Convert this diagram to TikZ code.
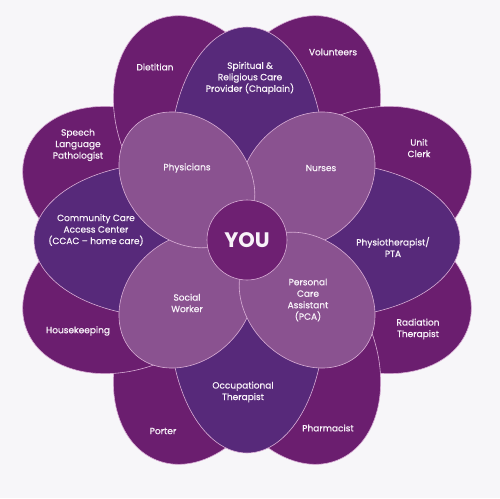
\documentclass[tikz,border=0pt]{standalone}
\usepackage{fontspec}
\setmainfont{Poppins}
\newfontfamily\petalFont{Poppins}[FakeBold=0.7]

\begin{document}
\begin{tikzpicture}[x=1pt, y=1pt,
    petal/.style={draw=lineColour, line width=0.6pt},
    label/.style={text=textColour, align=center, font=\petalFont\fontsize{9}{11.5}\selectfont}]
    \def\outerDist{126}
    \def\middleDist{80}
    \def\innerDist{85}
    \definecolor{lineColour}{HTML}{D9AED6}
    \definecolor{textColour}{HTML}{F8F2F9}
    \definecolor{outerColour}{HTML}{6B1E6F}
    \definecolor{middleColour}{HTML}{57297A}
    \definecolor{innerColour}{HTML}{8A5290}
    \definecolor{youColour}{HTML}{6E2072}
    \definecolor{pageColour}{HTML}{F7F6F9}

    % Page
    \fill[pageColour] (-247,-258) rectangle (253,240);
    \useasboundingbox (-247,-258) rectangle (253,240);

    % Outer petals (the ones lying underneath first)
    \foreach \ang in {157.5,67.5,-22.5,-112.5,112.5,22.5,-67.5,-157.5}
        \filldraw[petal, fill=outerColour, rotate=\ang] (\outerDist,0) ellipse (112 and 80);

    % Middle petals
    \foreach \ang in {90,0,-90,180}
        \filldraw[petal, fill=middleColour, rotate=\ang] (\middleDist,0) ellipse (133 and 77);

    % Inner petals: Nurses, Social Worker, Physicians, PCA
    \foreach \ang in {45,225,135,-45}
        \filldraw[petal, fill=innerColour, rotate=\ang] (\innerDist,0) ellipse (75 and 60);

    % Centre
    \filldraw[petal, fill=youColour] (0,0) circle (40);
    \node[text=textColour, font=\fontsize{21}{21}\selectfont\bfseries] (you) at (0,0) {YOU};

    % Outer labels
    \node[label] (dietitian) at (-92,173) {Dietitian};
    \node[label] (volunteers) at (86,188) {Volunteers};
    \node[label] (unitClerk) at (172,92) {Unit\\Clerk};
    \node[label] (radiation) at (171,-89) {Radiation\\Therapist};
    \node[label] (pharmacist) at (81,-188) {Pharmacist};
    \node[label] (porter) at (-84,-191) {Porter};
    \node[label] (housekeeping) at (-169,-91) {Housekeeping};
    \node[label] (speech) at (-169,95) {Speech\\Language\\Pathologist};

    % Middle labels
    \node[label] (spiritual) at (3,162) {Spiritual \&\\Religious Care\\Provider (Chaplain)};
    \node[label] (physio) at (146,-7) {Physiotherapist/\\PTA};
    \node[label] (occupational) at (-4,-152) {Occupational\\Therapist};
    \node[label] (ccac) at (-151,10) {Community Care\\Access Center\\(CCAC – home care)};

    % Inner labels
    \node[label] (physicians) at (-60,72) {Physicians};
    \node[label] (nurses) at (74,72) {Nurses};
    \node[label] (pca) at (61,-60) {Personal\\Care\\Assistant\\(PCA)};
    \node[label] (socialWorker) at (-60,-63) {Social\\Worker};

\end{tikzpicture}
\end{document}
